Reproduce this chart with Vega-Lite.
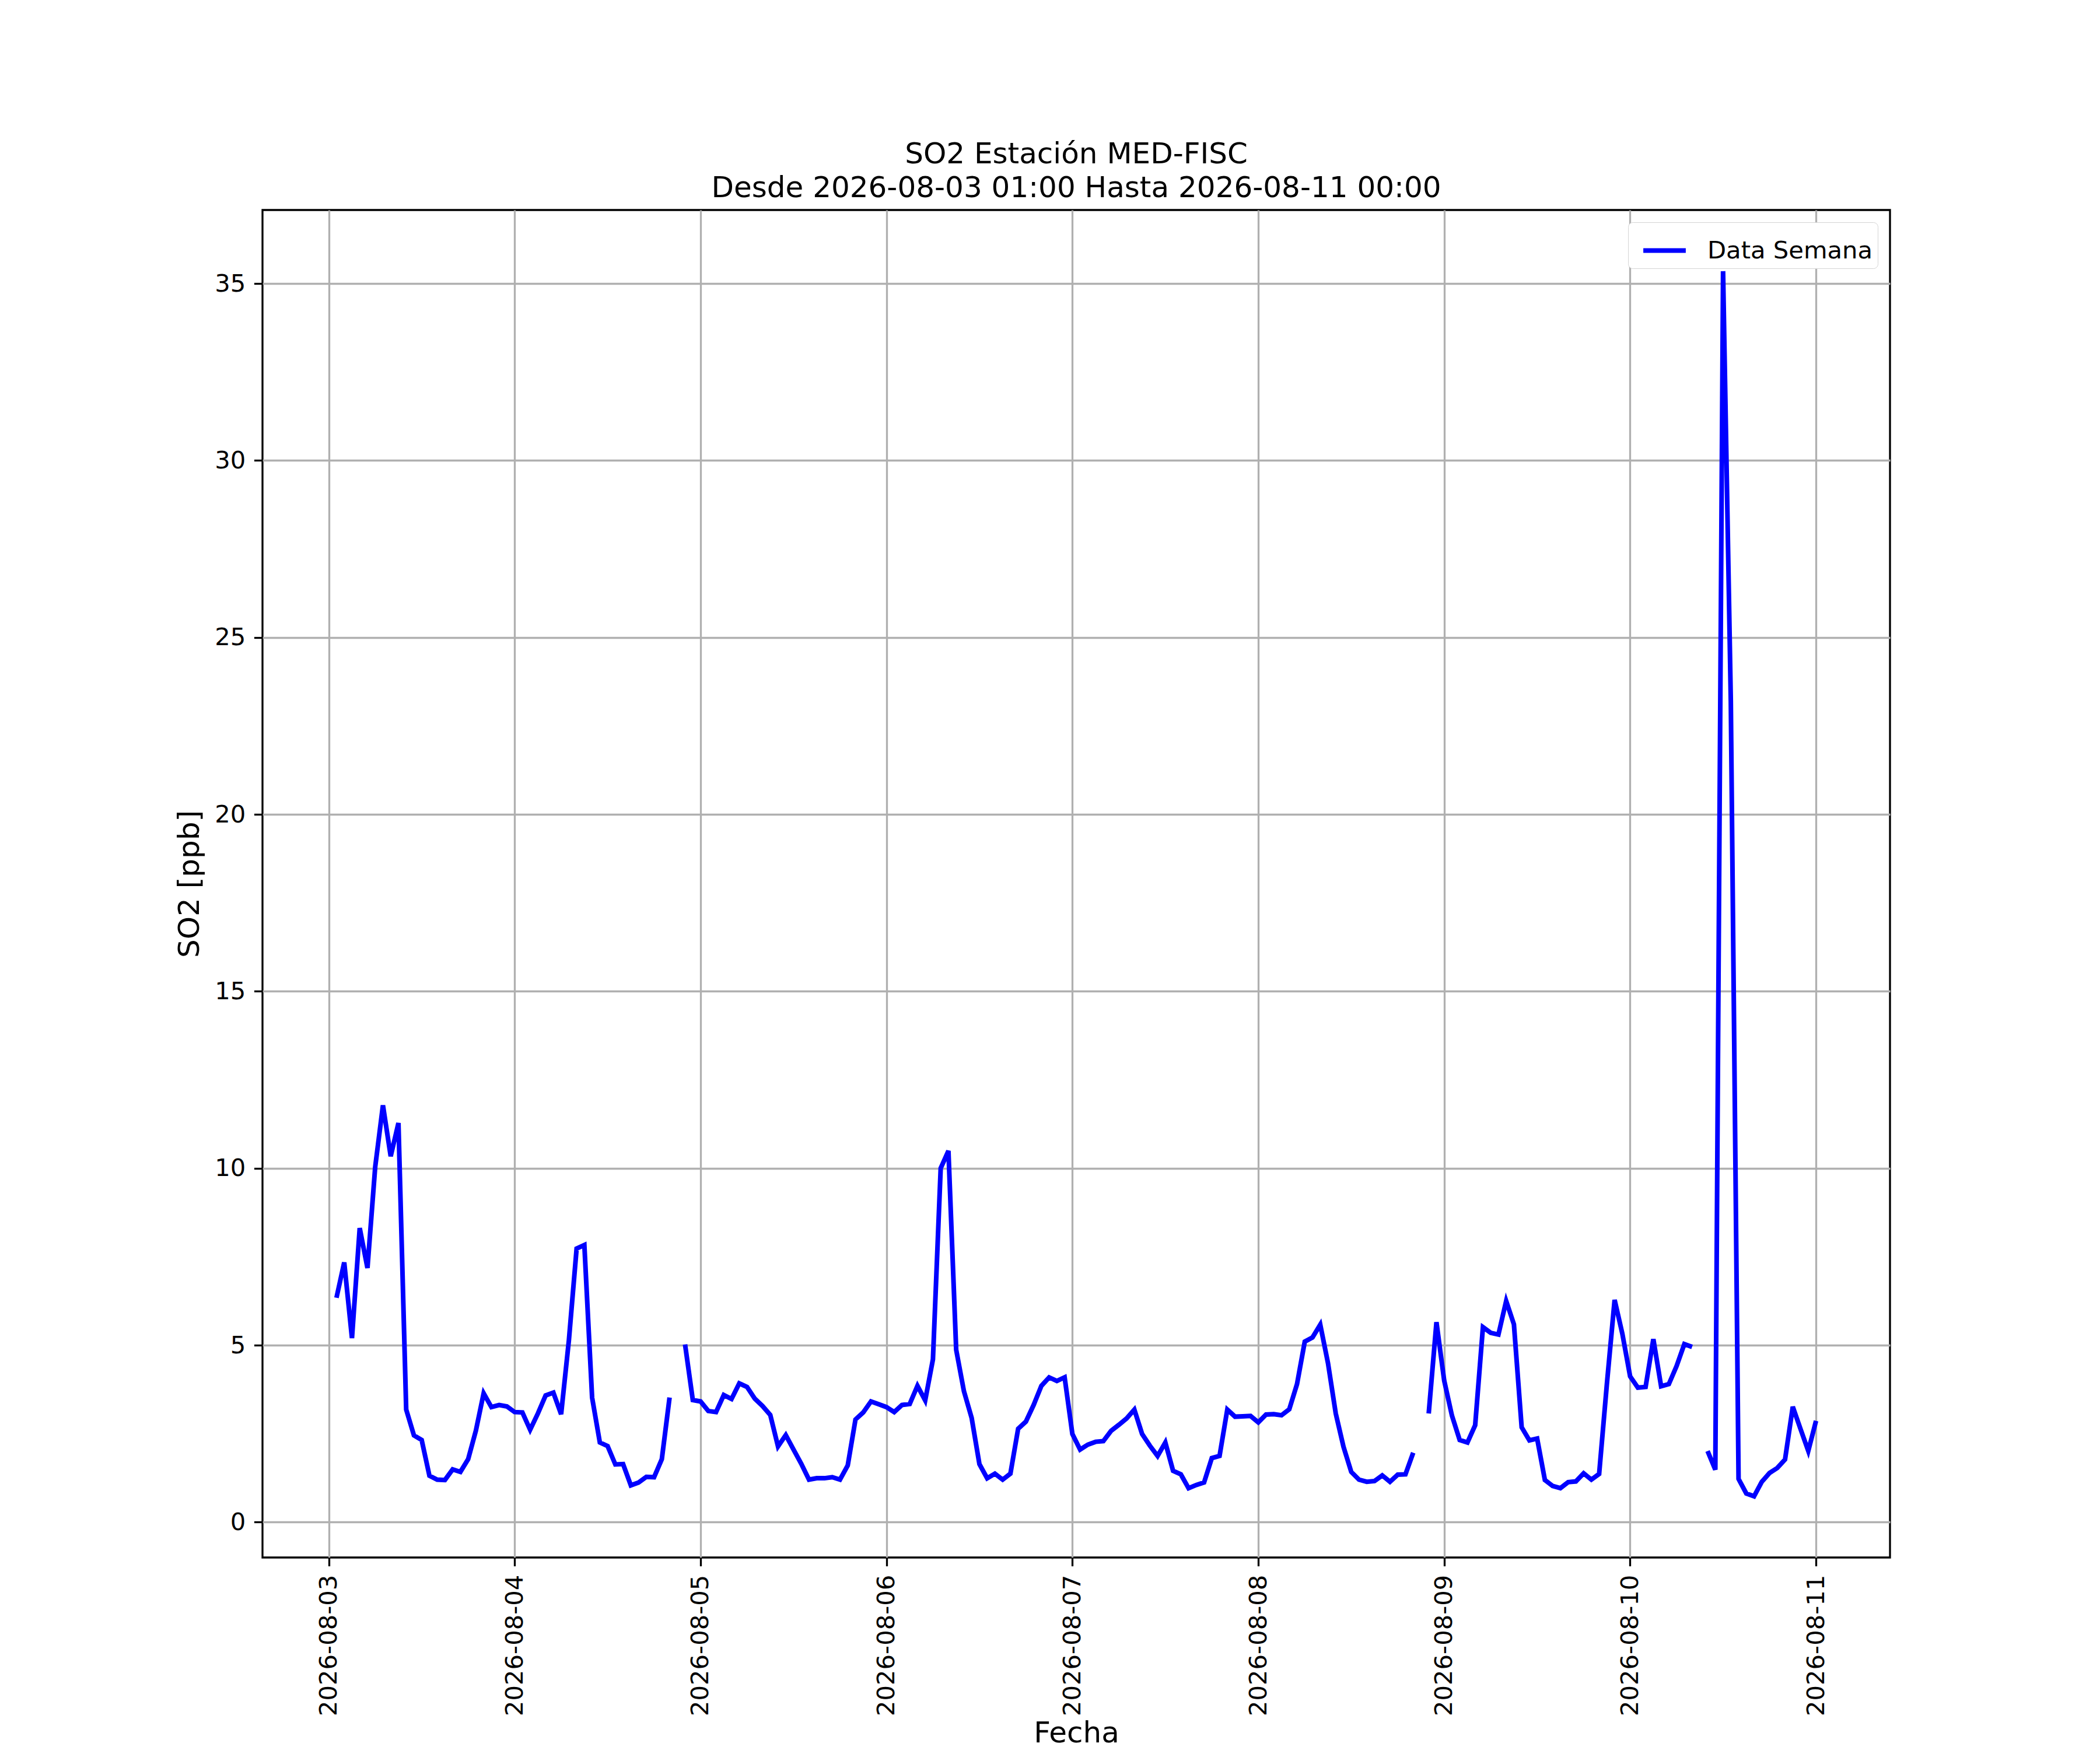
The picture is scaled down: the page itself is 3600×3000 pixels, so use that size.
{
  "$schema": "https://vega.github.io/schema/vega-lite/v6.json",
  "description": "SO2 hourly series, MED-FISC station, one week.",
  "autosize": "none",
  "width": 2790,
  "height": 2310,
  "padding": {"left": 450, "top": 360, "right": 360, "bottom": 330},
  "background": "white",
  "title": {
    "text": ["SO2 Estación MED-FISC", "Desde 2026-08-03 01:00 Hasta 2026-08-11 00:00"],
    "font": "DejaVu Sans",
    "fontSize": 50,
    "fontWeight": "normal",
    "color": "black",
    "anchor": "middle",
    "offset": 12,
    "lineHeight": 58
  },
  "data": {
    "values": [
      {"Fecha": "2026-08-03T01:00", "SO2": 6.34},
      {"Fecha": "2026-08-03T02:00", "SO2": 7.34},
      {"Fecha": "2026-08-03T03:00", "SO2": 5.20},
      {"Fecha": "2026-08-03T04:00", "SO2": 8.31},
      {"Fecha": "2026-08-03T05:00", "SO2": 7.18},
      {"Fecha": "2026-08-03T06:00", "SO2": 10.04},
      {"Fecha": "2026-08-03T07:00", "SO2": 11.78},
      {"Fecha": "2026-08-03T08:00", "SO2": 10.34},
      {"Fecha": "2026-08-03T09:00", "SO2": 11.28},
      {"Fecha": "2026-08-03T10:00", "SO2": 3.18},
      {"Fecha": "2026-08-03T11:00", "SO2": 2.45},
      {"Fecha": "2026-08-03T12:00", "SO2": 2.32},
      {"Fecha": "2026-08-03T13:00", "SO2": 1.31},
      {"Fecha": "2026-08-03T14:00", "SO2": 1.20},
      {"Fecha": "2026-08-03T15:00", "SO2": 1.19},
      {"Fecha": "2026-08-03T16:00", "SO2": 1.49},
      {"Fecha": "2026-08-03T17:00", "SO2": 1.42},
      {"Fecha": "2026-08-03T18:00", "SO2": 1.78},
      {"Fecha": "2026-08-03T19:00", "SO2": 2.59},
      {"Fecha": "2026-08-03T20:00", "SO2": 3.64},
      {"Fecha": "2026-08-03T21:00", "SO2": 3.25},
      {"Fecha": "2026-08-03T22:00", "SO2": 3.31},
      {"Fecha": "2026-08-03T23:00", "SO2": 3.27},
      {"Fecha": "2026-08-04T00:00", "SO2": 3.11},
      {"Fecha": "2026-08-04T01:00", "SO2": 3.10},
      {"Fecha": "2026-08-04T02:00", "SO2": 2.61},
      {"Fecha": "2026-08-04T03:00", "SO2": 3.07},
      {"Fecha": "2026-08-04T04:00", "SO2": 3.58},
      {"Fecha": "2026-08-04T05:00", "SO2": 3.66},
      {"Fecha": "2026-08-04T06:00", "SO2": 3.05},
      {"Fecha": "2026-08-04T07:00", "SO2": 5.13},
      {"Fecha": "2026-08-04T08:00", "SO2": 7.73},
      {"Fecha": "2026-08-04T09:00", "SO2": 7.83},
      {"Fecha": "2026-08-04T10:00", "SO2": 3.52},
      {"Fecha": "2026-08-04T11:00", "SO2": 2.25},
      {"Fecha": "2026-08-04T12:00", "SO2": 2.15},
      {"Fecha": "2026-08-04T13:00", "SO2": 1.63},
      {"Fecha": "2026-08-04T14:00", "SO2": 1.64},
      {"Fecha": "2026-08-04T15:00", "SO2": 1.04},
      {"Fecha": "2026-08-04T16:00", "SO2": 1.12},
      {"Fecha": "2026-08-04T17:00", "SO2": 1.28},
      {"Fecha": "2026-08-04T18:00", "SO2": 1.27},
      {"Fecha": "2026-08-04T19:00", "SO2": 1.78},
      {"Fecha": "2026-08-04T20:00", "SO2": 3.52},
      {"Fecha": "2026-08-04T21:00", "SO2": null},
      {"Fecha": "2026-08-04T22:00", "SO2": 5.02},
      {"Fecha": "2026-08-04T23:00", "SO2": 3.45},
      {"Fecha": "2026-08-05T00:00", "SO2": 3.41},
      {"Fecha": "2026-08-05T01:00", "SO2": 3.14},
      {"Fecha": "2026-08-05T02:00", "SO2": 3.11},
      {"Fecha": "2026-08-05T03:00", "SO2": 3.59},
      {"Fecha": "2026-08-05T04:00", "SO2": 3.48},
      {"Fecha": "2026-08-05T05:00", "SO2": 3.92},
      {"Fecha": "2026-08-05T06:00", "SO2": 3.82},
      {"Fecha": "2026-08-05T07:00", "SO2": 3.49},
      {"Fecha": "2026-08-05T08:00", "SO2": 3.28},
      {"Fecha": "2026-08-05T09:00", "SO2": 3.03},
      {"Fecha": "2026-08-05T10:00", "SO2": 2.14},
      {"Fecha": "2026-08-05T11:00", "SO2": 2.46},
      {"Fecha": "2026-08-05T12:00", "SO2": 2.05},
      {"Fecha": "2026-08-05T13:00", "SO2": 1.65},
      {"Fecha": "2026-08-05T14:00", "SO2": 1.20},
      {"Fecha": "2026-08-05T15:00", "SO2": 1.24},
      {"Fecha": "2026-08-05T16:00", "SO2": 1.24},
      {"Fecha": "2026-08-05T17:00", "SO2": 1.27},
      {"Fecha": "2026-08-05T18:00", "SO2": 1.20},
      {"Fecha": "2026-08-05T19:00", "SO2": 1.60},
      {"Fecha": "2026-08-05T20:00", "SO2": 2.90},
      {"Fecha": "2026-08-05T21:00", "SO2": 3.10},
      {"Fecha": "2026-08-05T22:00", "SO2": 3.41},
      {"Fecha": "2026-08-05T23:00", "SO2": 3.33},
      {"Fecha": "2026-08-06T00:00", "SO2": 3.25},
      {"Fecha": "2026-08-06T01:00", "SO2": 3.11},
      {"Fecha": "2026-08-06T02:00", "SO2": 3.31},
      {"Fecha": "2026-08-06T03:00", "SO2": 3.34},
      {"Fecha": "2026-08-06T04:00", "SO2": 3.85},
      {"Fecha": "2026-08-06T05:00", "SO2": 3.44},
      {"Fecha": "2026-08-06T06:00", "SO2": 4.60},
      {"Fecha": "2026-08-06T07:00", "SO2": 10.00},
      {"Fecha": "2026-08-06T08:00", "SO2": 10.49},
      {"Fecha": "2026-08-06T09:00", "SO2": 4.87},
      {"Fecha": "2026-08-06T10:00", "SO2": 3.70},
      {"Fecha": "2026-08-06T11:00", "SO2": 2.94},
      {"Fecha": "2026-08-06T12:00", "SO2": 1.64},
      {"Fecha": "2026-08-06T13:00", "SO2": 1.24},
      {"Fecha": "2026-08-06T14:00", "SO2": 1.37},
      {"Fecha": "2026-08-06T15:00", "SO2": 1.20},
      {"Fecha": "2026-08-06T16:00", "SO2": 1.37},
      {"Fecha": "2026-08-06T17:00", "SO2": 2.64},
      {"Fecha": "2026-08-06T18:00", "SO2": 2.84},
      {"Fecha": "2026-08-06T19:00", "SO2": 3.31},
      {"Fecha": "2026-08-06T20:00", "SO2": 3.85},
      {"Fecha": "2026-08-06T21:00", "SO2": 4.09},
      {"Fecha": "2026-08-06T22:00", "SO2": 3.99},
      {"Fecha": "2026-08-06T23:00", "SO2": 4.09},
      {"Fecha": "2026-08-07T00:00", "SO2": 2.49},
      {"Fecha": "2026-08-07T01:00", "SO2": 2.05},
      {"Fecha": "2026-08-07T02:00", "SO2": 2.19},
      {"Fecha": "2026-08-07T03:00", "SO2": 2.27},
      {"Fecha": "2026-08-07T04:00", "SO2": 2.29},
      {"Fecha": "2026-08-07T05:00", "SO2": 2.58},
      {"Fecha": "2026-08-07T06:00", "SO2": 2.75},
      {"Fecha": "2026-08-07T07:00", "SO2": 2.93},
      {"Fecha": "2026-08-07T08:00", "SO2": 3.18},
      {"Fecha": "2026-08-07T09:00", "SO2": 2.49},
      {"Fecha": "2026-08-07T10:00", "SO2": 2.16},
      {"Fecha": "2026-08-07T11:00", "SO2": 1.87},
      {"Fecha": "2026-08-07T12:00", "SO2": 2.25},
      {"Fecha": "2026-08-07T13:00", "SO2": 1.45},
      {"Fecha": "2026-08-07T14:00", "SO2": 1.35},
      {"Fecha": "2026-08-07T15:00", "SO2": 0.96},
      {"Fecha": "2026-08-07T16:00", "SO2": 1.05},
      {"Fecha": "2026-08-07T17:00", "SO2": 1.12},
      {"Fecha": "2026-08-07T18:00", "SO2": 1.81},
      {"Fecha": "2026-08-07T19:00", "SO2": 1.87},
      {"Fecha": "2026-08-07T20:00", "SO2": 3.18},
      {"Fecha": "2026-08-07T21:00", "SO2": 2.98},
      {"Fecha": "2026-08-07T22:00", "SO2": 2.99},
      {"Fecha": "2026-08-07T23:00", "SO2": 3.00},
      {"Fecha": "2026-08-08T00:00", "SO2": 2.82},
      {"Fecha": "2026-08-08T01:00", "SO2": 3.04},
      {"Fecha": "2026-08-08T02:00", "SO2": 3.05},
      {"Fecha": "2026-08-08T03:00", "SO2": 3.02},
      {"Fecha": "2026-08-08T04:00", "SO2": 3.19},
      {"Fecha": "2026-08-08T05:00", "SO2": 3.90},
      {"Fecha": "2026-08-08T06:00", "SO2": 5.10},
      {"Fecha": "2026-08-08T07:00", "SO2": 5.22},
      {"Fecha": "2026-08-08T08:00", "SO2": 5.58},
      {"Fecha": "2026-08-08T09:00", "SO2": 4.49},
      {"Fecha": "2026-08-08T10:00", "SO2": 3.07},
      {"Fecha": "2026-08-08T11:00", "SO2": 2.13},
      {"Fecha": "2026-08-08T12:00", "SO2": 1.42},
      {"Fecha": "2026-08-08T13:00", "SO2": 1.20},
      {"Fecha": "2026-08-08T14:00", "SO2": 1.14},
      {"Fecha": "2026-08-08T15:00", "SO2": 1.16},
      {"Fecha": "2026-08-08T16:00", "SO2": 1.32},
      {"Fecha": "2026-08-08T17:00", "SO2": 1.14},
      {"Fecha": "2026-08-08T18:00", "SO2": 1.34},
      {"Fecha": "2026-08-08T19:00", "SO2": 1.35},
      {"Fecha": "2026-08-08T20:00", "SO2": 1.96},
      {"Fecha": "2026-08-08T21:00", "SO2": null},
      {"Fecha": "2026-08-08T22:00", "SO2": 3.07},
      {"Fecha": "2026-08-08T23:00", "SO2": 5.65},
      {"Fecha": "2026-08-09T00:00", "SO2": 4.00},
      {"Fecha": "2026-08-09T01:00", "SO2": 3.01},
      {"Fecha": "2026-08-09T02:00", "SO2": 2.32},
      {"Fecha": "2026-08-09T03:00", "SO2": 2.25},
      {"Fecha": "2026-08-09T04:00", "SO2": 2.74},
      {"Fecha": "2026-08-09T05:00", "SO2": 5.51},
      {"Fecha": "2026-08-09T06:00", "SO2": 5.35},
      {"Fecha": "2026-08-09T07:00", "SO2": 5.30},
      {"Fecha": "2026-08-09T08:00", "SO2": 6.25},
      {"Fecha": "2026-08-09T09:00", "SO2": 5.59},
      {"Fecha": "2026-08-09T10:00", "SO2": 2.68},
      {"Fecha": "2026-08-09T11:00", "SO2": 2.31},
      {"Fecha": "2026-08-09T12:00", "SO2": 2.36},
      {"Fecha": "2026-08-09T13:00", "SO2": 1.19},
      {"Fecha": "2026-08-09T14:00", "SO2": 1.02},
      {"Fecha": "2026-08-09T15:00", "SO2": 0.96},
      {"Fecha": "2026-08-09T16:00", "SO2": 1.13},
      {"Fecha": "2026-08-09T17:00", "SO2": 1.15},
      {"Fecha": "2026-08-09T18:00", "SO2": 1.38},
      {"Fecha": "2026-08-09T19:00", "SO2": 1.20},
      {"Fecha": "2026-08-09T20:00", "SO2": 1.36},
      {"Fecha": "2026-08-09T21:00", "SO2": 3.90},
      {"Fecha": "2026-08-09T22:00", "SO2": 6.28},
      {"Fecha": "2026-08-09T23:00", "SO2": 5.32},
      {"Fecha": "2026-08-10T00:00", "SO2": 4.12},
      {"Fecha": "2026-08-10T01:00", "SO2": 3.80},
      {"Fecha": "2026-08-10T02:00", "SO2": 3.82},
      {"Fecha": "2026-08-10T03:00", "SO2": 5.17},
      {"Fecha": "2026-08-10T04:00", "SO2": 3.84},
      {"Fecha": "2026-08-10T05:00", "SO2": 3.90},
      {"Fecha": "2026-08-10T06:00", "SO2": 4.41},
      {"Fecha": "2026-08-10T07:00", "SO2": 5.03},
      {"Fecha": "2026-08-10T08:00", "SO2": 4.95},
      {"Fecha": "2026-08-10T09:00", "SO2": null},
      {"Fecha": "2026-08-10T10:00", "SO2": 2.01},
      {"Fecha": "2026-08-10T11:00", "SO2": 1.48},
      {"Fecha": "2026-08-10T12:00", "SO2": 35.35},
      {"Fecha": "2026-08-10T13:00", "SO2": 23.2},
      {"Fecha": "2026-08-10T14:00", "SO2": 1.22},
      {"Fecha": "2026-08-10T15:00", "SO2": 0.81},
      {"Fecha": "2026-08-10T16:00", "SO2": 0.73},
      {"Fecha": "2026-08-10T17:00", "SO2": 1.14},
      {"Fecha": "2026-08-10T18:00", "SO2": 1.39},
      {"Fecha": "2026-08-10T19:00", "SO2": 1.53},
      {"Fecha": "2026-08-10T20:00", "SO2": 1.77},
      {"Fecha": "2026-08-10T21:00", "SO2": 3.26},
      {"Fecha": "2026-08-10T22:00", "SO2": 2.63},
      {"Fecha": "2026-08-10T23:00", "SO2": 2.01},
      {"Fecha": "2026-08-11T00:00", "SO2": 2.86}
    ]
  },
  "mark": {
    "type": "line",
    "strokeWidth": 8,
    "invalid": "break-paths-show-domains",
    "clip": true
  },
  "encoding": {
    "x": {
      "field": "Fecha",
      "type": "temporal",
      "title": "Fecha",
      "scale": {
        "domain": [
          {"year": 2026, "month": 8, "date": 2, "hours": 15, "minutes": 27},
          {"year": 2026, "month": 8, "date": 11, "hours": 9, "minutes": 33}
        ]
      },
      "axis": {
        "format": "%Y-%m-%d",
        "tickCount": {"interval": "day", "step": 1},
        "labelAngle": 270,
        "labelAlign": "right",
        "labelBaseline": "middle",
        "labelLimit": 0,
        "titlePadding": 76
      }
    },
    "y": {
      "field": "SO2",
      "type": "quantitative",
      "title": "SO2 [ppb]",
      "scale": {"domain": [-1.0, 37.08], "nice": false, "zero": false},
      "axis": {"values": [0, 5, 10, 15, 20, 25, 30, 35]}
    },
    "color": {
      "datum": "Data Semana",
      "type": "nominal",
      "scale": {"range": ["#0000ff"]},
      "legend": {
        "title": null,
        "orient": "top-right",
        "offset": 21,
        "padding": 8,
        "fillColor": "white",
        "strokeColor": "#d4d4d4",
        "cornerRadius": 8,
        "symbolType": "M-1,0H1",
        "symbolSize": 5300,
        "symbolStrokeWidth": 8,
        "symbolOffset": 14,
        "labelFont": "DejaVu Sans",
        "labelFontSize": 41.7,
        "labelColor": "black",
        "labelOffset": 33,
        "labelLimit": 0
      }
    }
  },
  "config": {
    "font": "DejaVu Sans",
    "view": {"stroke": "black", "strokeWidth": 3.3},
    "axis": {
      "domain": false,
      "grid": true,
      "gridColor": "#b0b0b0",
      "gridWidth": 3.3,
      "gridOpacity": 1,
      "ticks": true,
      "tickColor": "black",
      "tickWidth": 3.3,
      "tickSize": 14.6,
      "labelPadding": 14.6,
      "labelFont": "DejaVu Sans",
      "labelFontSize": 41.7,
      "labelColor": "black",
      "labelFlush": false,
      "labelOverlap": false,
      "titleFont": "DejaVu Sans",
      "titleFontSize": 50,
      "titleFontWeight": "normal",
      "titleColor": "black",
      "titlePadding": 17
    }
  }
}
